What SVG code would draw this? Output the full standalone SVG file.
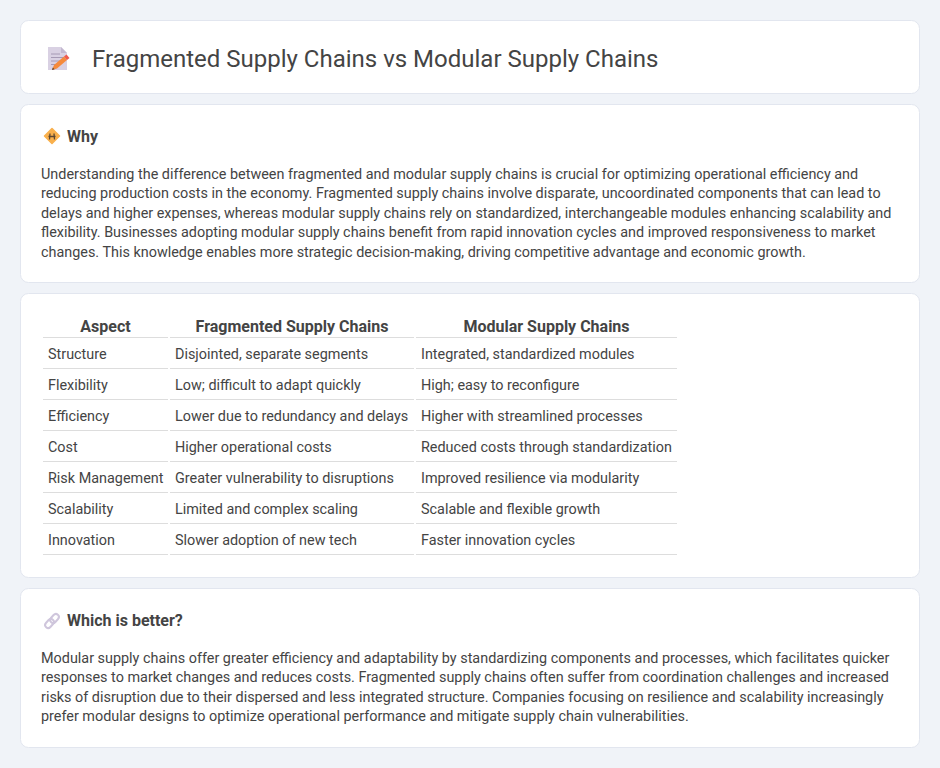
<svg xmlns="http://www.w3.org/2000/svg" width="940" height="768" viewBox="0 0 940 768">
<style>
text{font-family:Roboto,"Liberation Sans",sans-serif;fill:#444}
.card{fill:#fff;stroke:#e2e6ef;stroke-width:1}
.h{font-size:16px;font-weight:700}
.p{font-size:14.4px}
.th{font-size:16px;font-weight:700;text-anchor:middle}
.td{font-size:14.4px}
.r{stroke:#ddd;stroke-width:1;fill:none}
</style>
<rect width="940" height="768" fill="#f0f3f8"/>
<g id="title-card">
<rect class="card" x="20.500" y="20.500" width="899" height="73" rx="8"/>
<path d="M48 47h13l6 6v17h-19z" fill="#d9d1e3"/>
<path d="M61 47l6 6h-6z" fill="#c3b8d0"/>
<path d="M51 54h9M51 57.500h13M51 61h13M51 64.500h8" stroke="#a69ab5" stroke-width="1" fill="none"/>
<path d="M52 70l2-5 10-8.500 3 3.500-10 8.500z" fill="#f58a3c"/>
<path d="M52 70l.8-2.500 1.800 1.800z" fill="#5b4632"/>
<path d="M64 56.500l2.500-2 3 3.400-2.500 2.100z" fill="#ee5a4f"/>
<text x="92" y="67" style="font-size:24px">Fragmented Supply Chains vs Modular Supply Chains</text>
</g>
<g id="why-card">
<rect class="card" x="20.500" y="104.500" width="899" height="178" rx="8"/>
<path d="M52 128.500l7.500 7.500-7.500 7.500-7.500-7.500z" fill="#f9b04d" stroke="#f9b04d" stroke-width="1.500" stroke-linejoin="round"/>
<path d="M48.500 136.500h7M50 133.500l-.5 6M54 133.500l.5 6" stroke="#5b4632" stroke-width="1.300" fill="none"/>
<text class="h" x="67" y="142">Why</text>
<text class="p" x="41" y="179">Understanding the difference between fragmented and modular supply chains is crucial for optimizing operational efficiency and</text>
<text class="p" x="41" y="198">reducing production costs in the economy. Fragmented supply chains involve disparate, uncoordinated components that can lead to</text>
<text class="p" x="41" y="218">delays and higher expenses, whereas modular supply chains rely on standardized, interchangeable modules enhancing scalability and</text>
<text class="p" x="41" y="237">flexibility. Businesses adopting modular supply chains benefit from rapid innovation cycles and improved responsiveness to market</text>
<text class="p" x="41" y="257">changes. This knowledge enables more strategic decision-making, driving competitive advantage and economic growth.</text>
</g>
<g id="table-card">
<rect class="card" x="20.500" y="293.500" width="899" height="284" rx="8"/>
<text class="th" x="105.500" y="332">Aspect</text>
<text class="th" x="292" y="332">Fragmented Supply Chains</text>
<text class="th" x="546.500" y="332">Modular Supply Chains</text>
<path class="r" d="M43 337.500h125M170 337.500h244M416 337.500h261M43 368.500h125M170 368.500h244M416 368.500h261M43 399.500h125M170 399.500h244M416 399.500h261M43 430.500h125M170 430.500h244M416 430.500h261M43 461.500h125M170 461.500h244M416 461.500h261M43 492.500h125M170 492.500h244M416 492.500h261M43 523.500h125M170 523.500h244M416 523.500h261M43 554.500h125M170 554.500h244M416 554.500h261"/>
<text class="td" x="48" y="359">Structure</text><text class="td" x="175" y="359">Disjointed, separate segments</text><text class="td" x="421" y="359">Integrated, standardized modules</text>
<text class="td" x="48" y="390">Flexibility</text><text class="td" x="175" y="390">Low; difficult to adapt quickly</text><text class="td" x="421" y="390">High; easy to reconfigure</text>
<text class="td" x="48" y="421">Efficiency</text><text class="td" x="175" y="421">Lower due to redundancy and delays</text><text class="td" x="421" y="421">Higher with streamlined processes</text>
<text class="td" x="48" y="452">Cost</text><text class="td" x="175" y="452">Higher operational costs</text><text class="td" x="421" y="452">Reduced costs through standardization</text>
<text class="td" x="48" y="483">Risk Management</text><text class="td" x="175" y="483">Greater vulnerability to disruptions</text><text class="td" x="421" y="483">Improved resilience via modularity</text>
<text class="td" x="48" y="514">Scalability</text><text class="td" x="175" y="514">Limited and complex scaling</text><text class="td" x="421" y="514">Scalable and flexible growth</text>
<text class="td" x="48" y="545">Innovation</text><text class="td" x="175" y="545">Slower adoption of new tech</text><text class="td" x="421" y="545">Faster innovation cycles</text>
</g>
<g id="better-card">
<rect class="card" x="20.500" y="588.500" width="899" height="159" rx="8"/>
<g fill="none" stroke="#cfc6dc" stroke-width="2"><rect x="51.500" y="613.500" width="6" height="10" rx="3" transform="rotate(42 54.500 618.500)"/><rect x="46.500" y="618.500" width="6" height="10" rx="3" transform="rotate(42 49.500 623.500)"/></g>
<text class="h" x="67" y="626">Which is better?</text>
<text class="p" x="41" y="663">Modular supply chains offer greater efficiency and adaptability by standardizing components and processes, which facilitates quicker</text>
<text class="p" x="41" y="682">responses to market changes and reduces costs. Fragmented supply chains often suffer from coordination challenges and increased</text>
<text class="p" x="41" y="702">risks of disruption due to their dispersed and less integrated structure. Companies focusing on resilience and scalability increasingly</text>
<text class="p" x="41" y="721">prefer modular designs to optimize operational performance and mitigate supply chain vulnerabilities.</text>
</g>
</svg>
